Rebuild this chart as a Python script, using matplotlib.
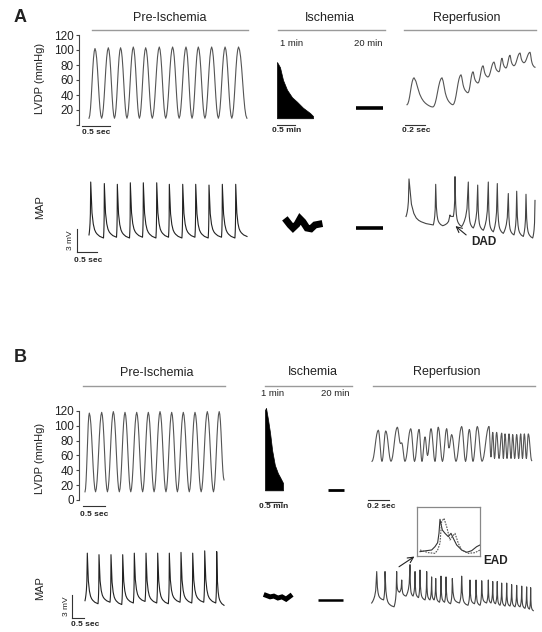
import numpy as np
import matplotlib
matplotlib.use("Agg")
import matplotlib.pyplot as plt
from matplotlib.lines import Line2D

plt.rcParams['font.family'] = ['Liberation Sans', 'DejaVu Sans']

# ---------------- data (keypoints: troughs / peaks) ----------------
# Panel A - LVDP (mmHg), time in s (ischemia in min)
a_pre_lvdp_t = [0.0, 0.107, 0.226, 0.345, 0.455, 0.564, 0.678, 0.791, 0.90, 1.012, 1.13, 1.255, 1.37,
                1.493, 1.61, 1.732, 1.84, 1.952, 2.07, 2.19, 2.31, 2.43, 2.55, 2.67, 2.82]
a_pre_lvdp_v = [9, 102, 9, 103, 9, 103, 9, 104, 9, 103, 9, 104, 9, 104, 9, 104, 9, 104, 9, 104, 9, 104, 9, 104, 9]
a_isch_t = [0, 0.083, 0.167, 0.278, 0.417, 0.556, 0.722, 0.917, 1.0]
a_isch_top = [84, 77, 60, 47, 37, 31, 23, 16, 12]
a_isch_low = [9, 9, 9, 9, 9, 9, 9, 9, 9]
a_isch20_t = [0, 0.75]
a_isch20_v = [23, 23]
a_rep_lvdp_t = [0.02, 0.09, 0.28, 0.37, 0.48, 0.56, 0.63, 0.68, 0.73, 0.78, 0.83, 0.89, 0.94, 0.97,
                1.01, 1.05, 1.09, 1.15, 1.19, 1.25, 1.30]
a_rep_lvdp_v = [27, 63, 24, 63, 27, 67, 43, 71, 56, 79, 64, 84, 71, 89, 76, 93, 79, 96, 83, 97, 77]

# Panel A - MAP (mV)
a_pre_map_t = [0.0, 0.043, 0.363, 0.383, 0.688, 0.708, 1.013, 1.033, 1.338, 1.358, 1.673, 1.693, 1.988,
               2.008, 2.323, 2.343, 2.648, 2.668, 2.98, 3.0, 3.313, 3.333, 3.648, 3.668, 3.95]
a_pre_map_v = [0.4, 7.3, 0.0, 7.1, 0.1, 7.0, 0.0, 7.2, 0.1, 7.2, 0.0, 7.2, 0.1, 7.0, 0.0, 7.0, 0.1, 7.0,
               0.0, 6.9, 0.1, 7.0, 0.0, 7.0, 0.2]
a_isch_map_t = [0.278, 0.361, 0.444, 0.556, 0.639, 0.722, 0.833, 0.944, 1.056, 1.167]
a_isch_map_v = [2.2, 1.7, 1.3, 1.8, 2.5, 2.1, 1.3, 1.2, 1.7, 1.8]
a_isch20_map_t = [0, 0.75]
a_isch20_map_v = [1.3, 1.3]
a_rep_map_t = [0.01, 0.04, 0.283, 0.307, 0.377, 0.45, 0.483, 0.50, 0.567, 0.633, 0.683, 0.727, 0.783,
               0.833, 0.883, 0.923, 0.983, 1.033, 1.09, 1.117, 1.183, 1.21, 1.277, 1.30]
a_rep_map_v = [2.8, 7.7, 1.7, 7.0, 1.6, 3.0, 2.8, 8.0, 1.5, 7.3, 1.3, 6.9, 1.0, 7.3, 0.8, 7.1, 0.6, 5.8,
               0.4, 6.1, 0.2, 5.7, 0.0, 4.9]

# Panel B - LVDP
b_pre_lvdp_t = [0.0, 0.098, 0.24, 0.379, 0.51, 0.644, 0.78, 0.909, 1.04, 1.175, 1.31, 1.439, 1.57, 1.705,
                1.84, 1.97, 2.10, 2.234, 2.37, 2.50, 2.64, 2.78, 2.92, 3.05, 3.16]
b_pre_lvdp_v = [11, 117, 11, 118, 11, 119, 11, 118, 11, 118, 11, 118, 11, 119, 11, 118, 11, 118, 11, 118,
                11, 119, 11, 119, 27]
b_isch_t = [0, 0.03, 0.09, 0.15, 0.21, 0.29, 0.38, 0.44, 0.53]
b_isch_top = [121, 124, 108, 90, 67, 47, 36, 31, 23]
b_isch_low = [13, 13, 13, 13, 13, 13, 13, 13, 13]
b_isch20_t = [0, 0.47]
b_isch20_v = [13.5, 13.5]
b_rep_lvdp_t = [0.019, 0.079, 0.114, 0.150, 0.200, 0.260, 0.290, 0.302, 0.333, 0.388, 0.424, 0.467, 0.495,
                0.524, 0.548, 0.581, 0.619, 0.650, 0.690, 0.730, 0.752, 0.778, 0.819, 0.873, 0.910, 0.946,
                0.981, 1.022, 1.067, 1.133, 1.152, 1.169, 1.186, 1.206, 1.229, 1.254, 1.270, 1.286, 1.305,
                1.324, 1.343, 1.359, 1.378, 1.397, 1.416, 1.435, 1.452, 1.470, 1.489, 1.508, 1.540]
b_rep_lvdp_v = [52, 94, 52, 93, 52, 98, 76, 77, 52, 96, 52, 95, 52, 85, 60, 96, 52, 98, 52, 96, 70, 88, 52,
                99, 52, 95, 52, 99, 52, 99, 58, 91, 56, 91, 56, 90, 56, 89, 56, 89, 56, 88, 56, 88, 56, 89,
                56, 89, 56, 89, 53]

# Panel B - MAP
b_pre_map_t = [0.0, 0.096, 0.543, 0.583, 1.043, 1.083, 1.531, 1.571, 2.014, 2.054, 2.502, 2.542, 2.989,
               3.029, 3.473, 3.513, 3.96, 4.0, 4.448, 4.488, 4.948, 4.988, 5.448, 5.488, 5.792]
b_pre_map_v = [0.3, 6.5, -0.1, 6.3, 0.1, 6.3, -0.2, 6.3, 0.0, 6.5, 0.2, 6.5, 0.0, 6.5, -0.1, 6.5, 0.1,
               6.6, 0.0, 6.5, 0.1, 6.8, 0.0, 6.7, -0.3]
b_isch_map_t = [0.03, 0.15, 0.26, 0.38, 0.5, 0.62, 0.74]
b_isch_map_v = [1.0, 0.8, 0.9, 0.65, 0.8, 0.5, 0.9]
b_isch20_map_t = [0, 0.74]
b_isch20_map_v = [0.4, 0.4]
b_rep_map_t = [0.016, 0.064, 0.129, 0.143, 0.229, 0.254, 0.281, 0.302, 0.343, 0.381, 0.410, 0.429, 0.462,
               0.476, 0.524, 0.540, 0.571, 0.587, 0.610, 0.626, 0.662, 0.676, 0.710, 0.724, 0.767, 0.784,
               0.852, 0.873, 0.933, 0.952, 0.995, 1.010, 1.048, 1.064, 1.110, 1.127, 1.152, 1.169, 1.195,
               1.212, 1.238, 1.254, 1.286, 1.302, 1.333, 1.349, 1.381, 1.397, 1.429, 1.445, 1.476, 1.492,
               1.519, 1.530, 1.555]
b_rep_map_v = [0, 4.1, 0.4, 4.1, -0.5, 4.1, 1.4, 3.0, 0.9, 5.0, 0.9, 4.1, 0.7, 4.3, 0.4, 4.1, 0.4, 3.4,
               0.4, 3.2, 0.1, 3.5, 0.1, 3.4, -0.1, 3.2, 0.0, 3.5, -0.3, 3.0, -0.1, 3.0, -0.3, 2.9, 0.0,
               3.0, 0.0, 2.8, -0.1, 2.8, -0.3, 2.6, -0.4, 2.6, -0.4, 2.4, -0.5, 2.3, -0.5, 2.2, -0.7,
               2.1, -0.8, 2.0, -1.0]

# EAD inset (two superimposed beats, arbitrary units)
ead_solid_t = [8, 28, 43, 53, 61, 65, 68, 75, 83, 93, 101, 108, 118, 133, 148, 163, 178, 188]
ead_solid_v = [0.5, 0.8, 1.0, 2.0, 3.2, 6.0, 10.2, 7.0, 6.0, 5.0, 6.0, 4.5, 2.5, 1.0, 0.3, 0.8, 2.0, 2.5]
ead_dot_t = [8, 33, 53, 61, 68, 73, 80, 88, 98, 105, 113, 123, 133, 153, 173, 188]
ead_dot_v = [1.0, 0.2, 0.0, 1.0, 3.0, 9.5, 10.5, 8.0, 4.0, 5.0, 6.0, 3.0, 1.0, 0.0, 0.2, 1.0]

# beat-segment shapes (fraction of the way from one keypoint to the next)
lv_up = [0, 0.04, 0.14, 0.3, 0.5, 0.7, 0.86, 0.96, 1]
lv_dn = [0, 0.04, 0.14, 0.3, 0.5, 0.7, 0.86, 0.96, 1]
lv_decay = [0, 0.12, 0.35, 0.56, 0.7, 0.8, 0.87, 0.92, 0.96, 0.99, 1]
map_up = [0, 0.05, 0.12, 0.22, 0.4, 1]
map_dn = [0, 0.55, 0.75, 0.85, 0.9, 0.93, 0.95, 0.97, 0.98, 0.99, 1]

# ---------------- figure ----------------
W, H = 542, 632
fig = plt.figure(figsize=(W / 100, H / 100), dpi=100)
LV_COL = '#555555'
MAP_COL = '#222222'


def build(t, v, up, dn):
    ts, vs = [t[0]], [v[0]]
    for k in range(len(t) - 1):
        tpl = np.array(up if v[k + 1] > v[k] else dn)
        ts.extend(np.linspace(t[k], t[k + 1], len(tpl))[1:])
        vs.extend((v[k] + (v[k + 1] - v[k]) * tpl)[1:])
    return np.array(ts), np.array(vs)


def trace_ax(x0, x1, y0, y1, xo, sx, yo, sy):
    ax = fig.add_axes([x0 / W, 1 - y1 / H, (x1 - x0) / W, (y1 - y0) / H])
    ax.set_xlim((x0 - xo) / sx, (x1 - xo) / sx)
    ax.set_ylim((yo - y1) / sy, (yo - y0) / sy)
    ax.axis('off')
    return ax


def txt(x, y, s, size=8, **kw):
    fig.text(x / W, 1 - y / H, s, ha='center', va='center', fontsize=size, color='#222222', **kw)


def hline(x0, x1, y):
    fig.add_artist(Line2D([x0 / W, x1 / W], [1 - y / H, 1 - y / H], color='#9a9a9a', lw=1.0))


def bar(ax, t0, t1, v0, v1):
    ax.plot([t0, t1], [v0, v1], color='#333333', lw=0.8, clip_on=False)


def lvdp_axis(ax, xpos, labels):
    ax.axis('on')
    for s in ['top', 'right', 'bottom']:
        ax.spines[s].set_visible(False)
    ax.spines['left'].set_position(('data', xpos))
    ax.spines['left'].set_bounds(0, 120)
    ax.spines['left'].set_color('#444444')
    ax.spines['left'].set_linewidth(0.8)
    ax.set_xticks([])
    ax.set_yticks(range(0, 121, 20))
    ax.set_yticklabels(labels)
    ax.tick_params(axis='y', length=2.5, width=0.8, pad=1.5, labelsize=8.5, colors='#444444',
                   labelcolor='#222222')
    ax.patch.set_visible(False)


# ----- Panel A -----
ax = trace_ax(60, 252, 30, 140, 89, 56, 125, 0.75)
ax.plot(*build(a_pre_lvdp_t, a_pre_lvdp_v, lv_up, lv_dn), color=LV_COL, lw=0.8)
lvdp_axis(ax, (79 - 89) / 56, ['', '20', '40', '60', '80', '100', '120'])
bar(ax, -0.125, 0.375, -1, -1)

ax = trace_ax(270, 320, 40, 140, 277, 36, 125, 0.75)
ax.fill_between(a_isch_t, a_isch_low, a_isch_top, color='black', lw=0.5)
bar(ax, 0, 0.5, 0, 0)
ax = trace_ax(350, 390, 40, 140, 356, 36, 125, 0.75)
ax.plot(a_isch20_t, a_isch20_v, color='black', lw=2.6, solid_capstyle='butt')

ax = trace_ax(400, 540, 40, 140, 405, 100, 125, 0.75)
ax.plot(*build(a_rep_lvdp_t, a_rep_lvdp_v, lv_up, lv_decay), color=LV_COL, lw=0.8)
bar(ax, 0, 0.2, 0, 0)

ax = trace_ax(60, 252, 170, 270, 89, 40, 238, 7.67)
ax.plot(*build(a_pre_map_t, a_pre_map_v, map_up, map_dn), color=MAP_COL, lw=0.8)
bar(ax, -0.3, -0.3, 1.17, -1.83)
bar(ax, -0.3, 0.2, -1.83, -1.83)

ax = trace_ax(270, 330, 200, 250, 277, 36, 238, 7.67)
ax.plot(a_isch_map_t, a_isch_map_v, color='black', lw=5, solid_joinstyle='miter')
ax = trace_ax(350, 390, 200, 250, 356, 36, 238, 7.67)
ax.plot(a_isch20_map_t, a_isch20_map_v, color='black', lw=2.6, solid_capstyle='butt')

ax = trace_ax(400, 540, 165, 250, 405, 100, 238, 7.67)
ax.plot(*build(a_rep_map_t, a_rep_map_v, map_up, map_dn), color='#444444', lw=0.8)

# ----- Panel B -----
ax = trace_ax(60, 230, 405, 515, 85, 44, 500, 0.743)
ax.plot(*build(b_pre_lvdp_t, b_pre_lvdp_v, lv_up, lv_dn), color=LV_COL, lw=0.8)
lvdp_axis(ax, (79.3 - 85) / 44, ['0', '20', '40', '60', '80', '100', '120'])
bar(ax, -0.04, 0.46, -7.7, -7.7)

ax = trace_ax(255, 300, 400, 515, 265, 34, 500, 0.743)
ax.fill_between(b_isch_t, b_isch_low, b_isch_top, color='black', lw=0.5)
bar(ax, 0, 0.5, -2.7, -2.7)
ax = trace_ax(320, 350, 400, 515, 328, 34, 500, 0.743)
ax.plot(b_isch20_t, b_isch20_v, color='black', lw=2.0, solid_capstyle='butt')

ax = trace_ax(365, 540, 415, 515, 370, 105, 500, 0.743)
ax.plot(*build(b_rep_lvdp_t, b_rep_lvdp_v, lv_up, lv_dn), color=LV_COL, lw=0.8)
bar(ax, -0.016, 0.184, 0, 0)

ax = trace_ax(60, 230, 540, 630, 85, 24, 603, 7.67)
ax.plot(*build(b_pre_map_t, b_pre_map_v, map_up, map_dn), color=MAP_COL, lw=0.8)
bar(ax, -0.554, -0.554, 1.04, -1.96)
bar(ax, -0.554, -0.054, -1.96, -1.96)

ax = trace_ax(255, 300, 580, 615, 265, 34, 603, 7.67)
ax.plot(b_isch_map_t, b_isch_map_v, color='black', lw=3.5, solid_joinstyle='miter')
ax = trace_ax(310, 350, 580, 615, 318, 34, 603, 7.67)
ax.plot(b_isch20_map_t, b_isch20_map_v, color='black', lw=1.8, solid_capstyle='butt')

ax = trace_ax(365, 540, 555, 625, 370, 105, 603, 7.67)
ax.plot(*build(b_rep_map_t, b_rep_map_v, map_up, map_dn), color='#444444', lw=0.8)

# EAD inset
ins = fig.add_axes([417.3 / W, 1 - 556 / H, (480 - 417.3) / W, (556 - 507.3) / H])
ins.plot(ead_solid_t, ead_solid_v, color='#333333', lw=0.8)
ins.plot(ead_dot_t, ead_dot_v, color='#555555', lw=0.8, ls=(0, (1.5, 1)))
ins.set_xlim(0, 188)
ins.set_ylim(-0.8, 13.8)
ins.set_xticks([])
ins.set_yticks([])
for s in ins.spines.values():
    s.set_color('#888888')
    s.set_linewidth(0.9)

# ----- texts, headers -----
txt(20, 18, 'A', size=13, weight='bold')
txt(20, 357, 'B', size=13, weight='bold')
for s, x, y in [('Pre-Ischemia', 170, 18), ('Ischemia', 330, 18), ('Reperfusion', 467, 18),
                ('Pre-Ischemia', 157, 373), ('Ischemia', 313, 372), ('Reperfusion', 447, 372)]:
    txt(x, y, s, size=9)
for x0, x1, y in [(92, 248, 30), (278, 385, 30), (404, 536, 30),
                  (83, 225, 386), (265, 352, 386), (373, 535, 386)]:
    hline(x0, x1, y)
for s, x, y in [('1 min', 292, 43), ('20 min', 368, 43), ('1 min', 273, 394), ('20 min', 335, 394)]:
    txt(x, y, s, size=6.8)
for s, x, y in [('0.5 sec', 96, 132), ('0.5 min', 287, 130), ('0.2 sec', 416, 130), ('0.5 sec', 88, 260),
                ('0.5 sec', 94, 514), ('0.5 min', 274, 507), ('0.2 sec', 381, 506), ('0.5 sec', 85, 624)]:
    txt(x, y, s, size=6, weight='bold')
txt(70, 240, '3 mV', size=6, rotation=90)
txt(66, 606, '3 mV', size=6, rotation=90)
for s, y in [('LVDP (mmHg)', 78), ('MAP', 207), ('LVDP (mmHg)', 458), ('MAP', 588)]:
    txt(40, y, s, size=8, rotation=90)
txt(484, 242, 'DAD', size=8.5, weight='bold')
txt(496, 561, 'EAD', size=8.5, weight='bold')
fig.add_artist(plt.Annotation('', xy=(453.3 / W, 1 - 224.3 / H), xytext=(468.3 / W, 1 - 236.7 / H),
                              xycoords='figure fraction', textcoords='figure fraction',
                              arrowprops=dict(arrowstyle='->', lw=0.8, color='#222222')))
fig.add_artist(plt.Annotation('', xy=(416.7 / W, 1 - 555 / H), xytext=(396.7 / W, 1 - 568.3 / H),
                              xycoords='figure fraction', textcoords='figure fraction',
                              arrowprops=dict(arrowstyle='->', lw=0.8, color='#222222')))

fig.savefig('out.png', dpi=100)
